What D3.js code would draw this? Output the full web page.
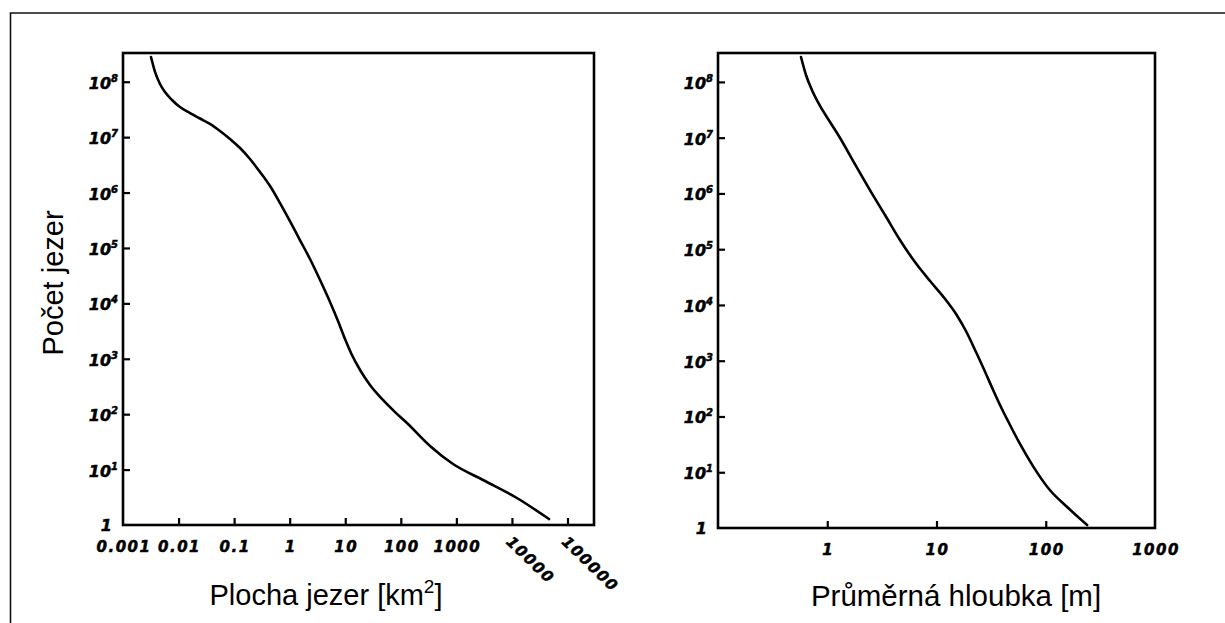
<!DOCTYPE html>
<html>
<head>
<meta charset="utf-8">
<script src="https://cdn.jsdelivr.net/npm/d3@7"></script>
<style>
  html, body { margin: 0; padding: 0; background: #fff; }
  svg { display: block; }
  .tick-label { font-family: "DejaVu Sans", sans-serif; font-weight: bold; font-style: italic; fill: #000; stroke: #000; stroke-width: 0.5px; }
  .title { font-family: "Liberation Sans", Arial, sans-serif; fill: #000; }
</style>
</head>
<body>
<svg id="chart" width="1225" height="623"></svg>
<script>
// ---- Data ----
const areaX     = [0.00319, 0.00377, 0.00463, 0.00570, 0.00762, 0.0106, 0.0161, 0.0243, 0.0368, 0.0557, 0.0843, 0.128, 0.193, 0.292, 0.443, 0.670, 1.01, 1.53, 2.32, 3.52, 5.32, 7.41, 9.91, 13.2, 18.5, 27.9, 45.9, 78.7, 129, 336, 871, 3020, 12300, 46500];
const areaCount = [2.79e8, 1.50e8, 9.10e7, 6.52e7, 4.68e7, 3.50e7, 2.72e7, 2.17e7, 1.73e7, 1.29e7, 9.25e6, 6.37e6, 4.03e6, 2.35e6, 1.31e6, 6.47e5, 3.06e5, 1.39e5, 6.32e4, 2.64e4, 1.06e4, 4.81e3, 2.27e3, 1.17e3, 627, 336, 188, 109, 69.3, 26.7, 12.6, 6.49, 3.07, 1.28];

const depthX     = [0.575, 0.639, 0.724, 0.859, 1.06, 1.31, 1.79, 2.46, 3.38, 4.63, 6.35, 8.73, 12.0, 15.1, 18.6, 23.0, 28.4, 33.6, 38.9, 45.1, 58.1, 76.4, 109, 157, 239];
const depthCount = [2.80e8, 1.33e8, 7.16e7, 3.70e7, 1.91e7, 9.87e6, 3.37e6, 1.15e6, 4.10e5, 1.46e5, 5.89e4, 2.69e4, 1.28e4, 6.89e3, 3.41e3, 1.43e3, 578, 275, 148, 83.0, 32.1, 12.9, 4.80, 2.38, 1.13];

const countTicks = [1, 1e1, 1e2, 1e3, 1e4, 1e5, 1e6, 1e7, 1e8];
const countExponents = [0, 1, 2, 3, 4, 5, 6, 7, 8];

const areaTicks = [0.001, 0.01, 0.1, 1, 10, 100, 1000, 10000, 100000];
const areaTickLabels = ["0.001", "0.01", "0.1", "1", "10", "100", "1000", "10000", "100000"];

const depthTicks = [1, 10, 100, 1000];
const depthTickLabels = ["1", "10", "100", "1000"];

const yLabel = "Počet jezer";
const areaTitle = "Plocha jezer [km";
const depthTitle = "Průměrná hloubka [m]";

// ---- Drawing ----
const svg = d3.select("#chart");

// outer frame (left and top edges visible)
svg.append("path")
  .attr("d", "M10.5,630 L10.5,13 L1240,13")
  .attr("fill", "none").attr("stroke", "#111").attr("stroke-width", 1.6);

function panel(opts) {
  const { x0, x1, yTop, yBot, xDomain, yDomain, xs, ys, xTicks, xLabels, rotateFrom } = opts;
  const x = d3.scaleLog().domain(xDomain).range([x0, x1]);
  const y = d3.scaleLog().domain(yDomain).range([yBot, yTop]);
  const g = svg.append("g");

  // frame
  g.append("rect")
    .attr("x", x0).attr("y", yTop).attr("width", x1 - x0).attr("height", yBot - yTop)
    .attr("fill", "none").attr("stroke", "#000").attr("stroke-width", 2.6);

  // y axis ticks (inward)
  const ya = g.append("g").attr("transform", `translate(${x0},0)`)
    .call(d3.axisLeft(y).tickValues(countTicks.slice(1)).tickSize(-7).tickFormat(() => ""));
  ya.select(".domain").remove();
  ya.selectAll(".tick line").attr("stroke", "#000").attr("stroke-width", 2.2);

  // x axis ticks (inward)
  const xa = g.append("g").attr("transform", `translate(0,${yBot})`)
    .call(d3.axisBottom(x).tickValues(xTicks.filter(v => x(v) > x0 + 2 && x(v) < x1 - 2)).tickSize(-7).tickFormat(() => ""));
  xa.select(".domain").remove();
  xa.selectAll(".tick line").attr("stroke", "#000").attr("stroke-width", 2.2);

  // y labels with superscripts
  countTicks.forEach((v, i) => {
    const e = countExponents[i];
    if (e === 0) {
      g.append("text").attr("class", "tick-label")
        .attr("x", x0 - 11).attr("y", y(v) + 6)
        .attr("text-anchor", "end").attr("font-size", 16).text("1");
    } else {
      const t = g.append("text").attr("class", "tick-label")
        .attr("x", x0 - 5).attr("y", y(v) + 7)
        .attr("text-anchor", "end").attr("font-size", 16);
      t.append("tspan").text("10");
      t.append("tspan").attr("font-size", 10).attr("dy", -7).text(String(e));
    }
  });

  // x labels
  xTicks.forEach((v, i) => {
    const px = x(v);
    if (i >= rotateFrom) {
      g.append("text").attr("class", "tick-label")
        .attr("font-size", 15).attr("letter-spacing", "1.5px")
        .attr("transform", `translate(${px - 3},${yBot + 14}) rotate(44)`)
        .attr("text-anchor", "start").attr("dy", "0.35em")
        .text(xLabels[i]);
    } else {
      g.append("text").attr("class", "tick-label")
        .attr("font-size", 15).attr("letter-spacing", "1.5px")
        .attr("x", px + 1).attr("y", yBot + 27)
        .attr("text-anchor", "middle").text(xLabels[i]);
    }
  });

  // curve
  const pts = xs.map((d, i) => [d, ys[i]]);
  g.append("path").datum(pts)
    .attr("fill", "none").attr("stroke", "#000").attr("stroke-width", 2.6)
    .attr("stroke-linecap", "round").attr("stroke-linejoin", "round")
    .attr("d", d3.line().x(d => x(d[0])).y(d => y(d[1])).curve(d3.curveMonotoneX));
  return { x, y };
}

panel({
  x0: 123, x1: 594, yTop: 53, yBot: 525,
  xDomain: [0.001, 3e5], yDomain: [1, 3.3e8],
  xs: areaX, ys: areaCount,
  xTicks: areaTicks, xLabels: areaTickLabels, rotateFrom: 7
});

panel({
  x0: 718, x1: 1155, yTop: 53, yBot: 528,
  xDomain: [0.1, 1000], yDomain: [1, 3.3e8],
  xs: depthX, ys: depthCount,
  xTicks: depthTicks, xLabels: depthTickLabels, rotateFrom: 99
});

// axis titles
svg.append("text").attr("class", "title")
  .attr("transform", "translate(63,283) rotate(-90)")
  .attr("text-anchor", "middle").attr("font-size", 29).text(yLabel);

const at = svg.append("text").attr("class", "title")
  .attr("x", 326).attr("y", 605).attr("text-anchor", "middle").attr("font-size", 29);
at.append("tspan").text(areaTitle);
at.append("tspan").attr("font-size", 19).attr("dy", -12).text("2");
at.append("tspan").attr("dy", 12).text("]");

svg.append("text").attr("class", "title")
  .attr("x", 956).attr("y", 606).attr("text-anchor", "middle").attr("font-size", 29.5)
  .text(depthTitle);
</script>
</body>
</html>
